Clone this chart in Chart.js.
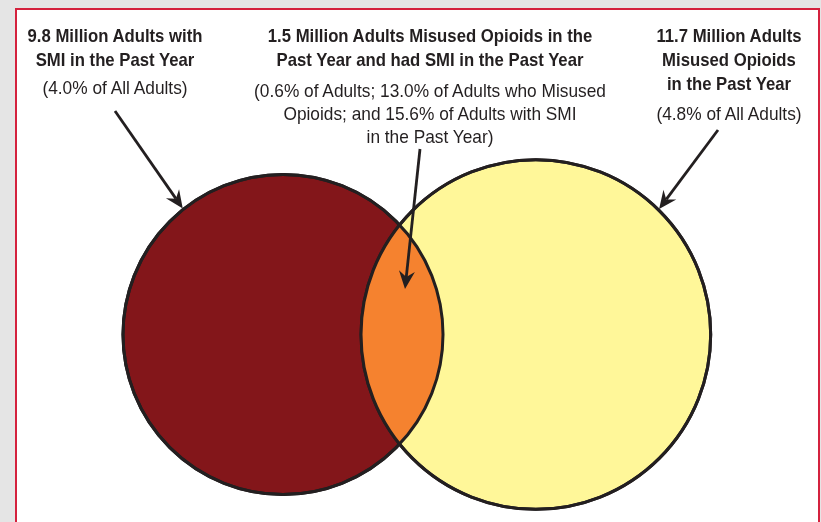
<!DOCTYPE html>
<html>
<head>
<meta charset="utf-8">
<script src="https://cdn.jsdelivr.net/npm/chart.js@4.4.1/dist/chart.umd.min.js"></script>
<style>
html,body{margin:0;padding:0;background:#e5e5e5;width:821px;height:522px;overflow:hidden;}
#panel{position:absolute;left:15px;top:8px;width:801px;height:600px;background:#fff;border:2px solid #d4213d;}
#c{position:absolute;left:0;top:0;}
.lbl{position:absolute;font-family:"Liberation Sans",Arial,sans-serif;color:#231f20;text-align:center;white-space:nowrap;}
.t{font-weight:bold;font-size:19px;line-height:24px;transform:translateX(-50%) scaleX(.88);}
.s{font-size:19px;line-height:23px;transform:translateX(-50%) scaleX(.91);}
</style>
</head>
<body>
<div id="panel"></div>
<canvas id="c" width="821" height="522"></canvas>
<div id="labels"></div>
<script>
// sets (millions of adults)
const setNames=['Adults with SMI in the Past Year','Adults who Misused Opioids in the Past Year'];
const setSizes=[9.8,11.7];
const bothSize=1.5;
const setColors=['#83161a','#fff799'];
const bothColor='#f5822f';

// label text
const leftTitle=['9.8 Million Adults with','SMI in the Past Year'];
const leftNote=['(4.0% of All Adults)'];
const midTitle=['1.5 Million Adults Misused Opioids in the','Past Year and had SMI in the Past Year'];
const midNote=['(0.6% of Adults; 13.0% of Adults who Misused','Opioids; and 15.6% of Adults with SMI','in the Past Year)'];
const rightTitle=['11.7 Million Adults','Misused Opioids','in the Past Year'];
const rightNote=['(4.8% of All Adults)'];

// layout
const PPU=90.6;           // pixels per unit, circle area in units = millions
const W=821,H=522;
const leftCX=283/PPU, CY=334.5/PPU;

function lensArea(r1,r2,d){
  if(d>=r1+r2)return 0;
  if(d<=Math.abs(r1-r2))return Math.PI*Math.min(r1,r2)**2;
  const a1=Math.acos((d*d+r1*r1-r2*r2)/(2*d*r1));
  const a2=Math.acos((d*d+r2*r2-r1*r1)/(2*d*r2));
  const k=Math.sqrt((-d+r1+r2)*(d+r1-r2)*(d-r1+r2)*(d+r1+r2));
  return r1*r1*a1+r2*r2*a2-0.5*k;
}
const radii=setSizes.map(v=>Math.sqrt(v/Math.PI));
let lo=Math.abs(radii[0]-radii[1]),hi=radii[0]+radii[1];
for(let i=0;i<60;i++){const m=(lo+hi)/2;if(lensArea(radii[0],radii[1],m)>bothSize)lo=m;else hi=m;}
const dist=(lo+hi)/2;
const points=[{x:leftCX,y:CY,r:0},{x:leftCX+dist,y:CY,r:0}];

const lensPlugin={
  id:'lens',
  afterDatasetsDraw(chart){
    const ctx=chart.ctx;
    const [a,b]=chart.getDatasetMeta(0).data;
    ctx.save();
    ctx.beginPath();ctx.arc(a.x,a.y,a.options.radius,0,Math.PI*2);ctx.clip();
    ctx.beginPath();ctx.arc(b.x,b.y,b.options.radius,0,Math.PI*2);
    ctx.fillStyle=bothColor;ctx.fill();
    ctx.restore();
    ctx.save();
    ctx.lineWidth=3;ctx.strokeStyle='#231f20';
    [a,b].forEach(el=>{ctx.beginPath();ctx.arc(el.x,el.y,el.options.radius,0,Math.PI*2);ctx.stroke();});
    ctx.restore();
  }
};

function arrow(ctx,x1,y1,x2,y2){
  const ang=Math.atan2(y2-y1,x2-x1),len=18,wid=8,notch=12;
  const bx=x2-Math.cos(ang)*notch,by=y2-Math.sin(ang)*notch;
  ctx.beginPath();ctx.moveTo(x1,y1);ctx.lineTo(bx,by);ctx.stroke();
  const cx=x2-Math.cos(ang)*len,cy=y2-Math.sin(ang)*len;
  ctx.beginPath();
  ctx.moveTo(x2,y2);
  ctx.lineTo(cx+Math.sin(ang)*wid,cy-Math.cos(ang)*wid);
  ctx.lineTo(bx,by);
  ctx.lineTo(cx-Math.sin(ang)*wid,cy+Math.cos(ang)*wid);
  ctx.closePath();ctx.fill();
}

const arrowPlugin={
  id:'arrows',
  afterDraw(chart){
    const ctx=chart.ctx;
    const [a,b]=chart.getDatasetMeta(0).data;
    const ra0=a.options.radius,rb0=b.options.radius;
    if(!ra0)return;
    ctx.save();
    ctx.strokeStyle='#231f20';ctx.fillStyle='#231f20';ctx.lineWidth=2.8;
    const la=-128.5*Math.PI/180,ra=-45.5*Math.PI/180;
    arrow(ctx,115,111,a.x+Math.cos(la)*(ra0+1),a.y+Math.sin(la)*(ra0+1));
    arrow(ctx,420,149,405,289);
    arrow(ctx,718,130,b.x+Math.cos(ra)*(rb0+1),b.y+Math.sin(ra)*(rb0+1));
    ctx.restore();
  }
};

const chart=new Chart(document.getElementById('c'),{
  type:'bubble',
  data:{datasets:[{
    label:'Adults',
    data:points,
    backgroundColor:setColors,
    borderColor:'#231f20',
    borderWidth:3,
    clip:false
  }]},
  options:{
    responsive:false,animation:false,events:[],
    layout:{padding:0,autoPadding:false},
    plugins:{legend:{display:false},tooltip:{enabled:false}},
    scales:{
      x:{type:'linear',min:0,max:W/PPU,display:false},
      y:{type:'linear',min:0,max:H/PPU,reverse:true,display:false}
    }
  },
  plugins:[lensPlugin,arrowPlugin]
});
// bubble radius is in pixels: convert set radius through the x scale
const sx=chart.scales.x;
points.forEach((p,i)=>{p.r=sx.getPixelForValue(radii[i])-sx.getPixelForValue(0);});
chart.update();

function block(lines,cls,x,y){
  const d=document.createElement('div');
  d.className='lbl '+cls;d.style.left=x+'px';d.style.top=y+'px';
  d.innerHTML=lines.join('<br>');
  document.getElementById('labels').appendChild(d);
}
block(leftTitle,'t',115,24);
block(leftNote,'s',115,76);
block(midTitle,'t',430,24);
block(midNote,'s',430,79);
block(rightTitle,'t',729,24);
block(rightNote,'s',729,102);
</script>
</body>
</html>
